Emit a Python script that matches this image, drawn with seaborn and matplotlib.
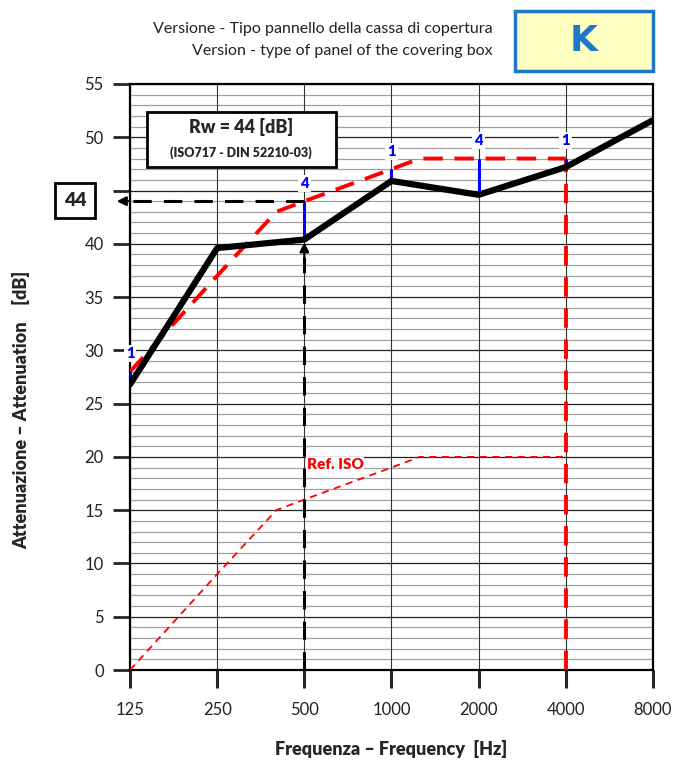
import matplotlib
matplotlib.use("Agg")
import matplotlib.pyplot as plt
import seaborn as sns
import numpy as np
import pandas as pd
from matplotlib.patches import Rectangle

# measured attenuation per octave band
freqs = [125, 250, 500, 1000, 2000, 4000, 8000]
measured = [26.8, 39.6, 40.4, 45.9, 44.6, 47.2, 51.6]

# ISO 717 reference curve (unshifted) and its shift to Rw
ref_freqs = [125, 250, 400, 500, 1000, 1250, 4000]
ref_values = [0, 9, 15, 16, 19, 20, 20]
ref_shift = 28
rw = 44

# deficiency markers
def_freqs = [125, 500, 1000, 2000, 4000]
def_labels = ["1", "4", "1", "4", "1"]

xtick_labels = ["125", "250", "500", "1000", "2000", "4000", "8000"]
ytick_values = [0, 5, 10, 15, 20, 25, 30, 35, 40, 50, 55]

df_meas = pd.DataFrame({"freq": freqs, "att": measured})
df_ref = pd.DataFrame({"freq": ref_freqs, "att": ref_values})
df_shift = pd.DataFrame({"freq": ref_freqs, "att": [v + ref_shift for v in ref_values]})


def shifted_at(f):
    return np.interp(np.log2(f), np.log2(ref_freqs), df_shift["att"])


sns.set_style("white")
plt.rcParams["font.family"] = ["Lato", "DejaVu Sans"]

fig = plt.figure(figsize=(6.88, 7.62), dpi=100)
ax = fig.add_axes([0.189, 0.1207, 0.760, 0.7691])
ax.set_xscale("log", base=2)
ax.set_xlim(125, 8000)
ax.set_ylim(0, 55)

# grid
for y in range(0, 56):
    if y % 5 == 0:
        ax.axhline(y, color="#222222", lw=0.9, zorder=1)
    else:
        ax.axhline(y, color="#a0a0a0", lw=0.9, zorder=1)
for f in freqs:
    ax.axvline(f, color="#333333", lw=0.8, zorder=1)

# reference ISO curve (thin) and shifted curve
sns.lineplot(data=df_ref, x="freq", y="att", ax=ax, color="red", lw=1.3,
             zorder=3).lines[-1].set_dashes([4, 3])
sns.lineplot(data=df_shift, x="freq", y="att", ax=ax, color="red",
             lw=2.8, zorder=4).lines[-1].set_dashes([5, 3])

# vertical red dashed at 4000
ax.plot([4000, 4000], [0, shifted_at(4000)], color="red", lw=2.8,
        dashes=[5, 3], zorder=4)

# deficiency bars
meas_at = dict(zip(freqs, measured))
for f, lab in zip(def_freqs, def_labels):
    top = shifted_at(f)
    ax.plot([f, f], [meas_at[f], top], color="blue", lw=2.2, zorder=5,
            solid_capstyle="butt")
    ax.text(f, top + 1.7, lab, color="blue", fontsize=10.5, fontweight="heavy",
            ha="center", va="center", zorder=7,
            bbox=dict(facecolor="white", edgecolor="none", pad=1.5))

# measured curve
sns.lineplot(data=df_meas, x="freq", y="att", ax=ax, color="black", lw=4.5,
             zorder=6)

# arrows for Rw reading
ax.plot([500, 500], [0, meas_at[500] - 1.6], color="black", lw=2.2,
        dashes=[6, 4], zorder=6)
ax.annotate("", xy=(500, meas_at[500]), xytext=(500, meas_at[500] - 2.2),
            arrowprops=dict(arrowstyle="-|>", color="black", lw=1.5,
                            mutation_scale=14), zorder=7)
ax.plot([500, 116], [rw, rw], color="black", lw=2.2, dashes=[6, 4],
        zorder=6, clip_on=False)
ax.annotate("", xy=(110, rw), xytext=(128, rw),
            arrowprops=dict(arrowstyle="-|>", color="black", lw=1.5,
                            mutation_scale=14), annotation_clip=False, zorder=7)

ax.text(510, 19.3, "Ref. ISO", color="red", fontsize=11, fontweight="heavy",
        ha="left", va="center", zorder=7,
        bbox=dict(facecolor="white", edgecolor="none", pad=0.5))

# axes and ticks
ax.set_xticks(freqs)
ax.set_xticklabels(xtick_labels)
ax.xaxis.set_minor_locator(matplotlib.ticker.NullLocator())
ax.set_yticks(list(range(0, 56, 5)))
ax.set_yticklabels([str(v) if v in ytick_values else "" for v in range(0, 56, 5)])
ax.tick_params(axis="x", bottom=True, direction="out", length=13, width=2.2,
               pad=10, labelsize=12, labelcolor="#222222")
ax.tick_params(axis="y", left=True, direction="out", length=12, width=2.0,
               pad=7, labelsize=12, labelcolor="#222222")
for s in ax.spines.values():
    s.set_color("black")
    s.set_linewidth(1.6)

ax.set_xlabel("Frequenza \u2013 Frequency  [Hz]", fontsize=13,
              fontweight="heavy", labelpad=16)
ax.set_ylabel("Attenuazione \u2013 Attenuation    [dB]", fontsize=13,
              fontweight="heavy")
ax.yaxis.set_label_coords(-0.19, 0.444)

# Rw box
ax.text(0.212, 0.926, "Rw = 44 [dB]", transform=ax.transAxes, fontsize=13,
        fontweight="heavy", ha="center", va="center", zorder=9)
ax.text(0.212, 0.883, "(ISO717 - DIN 52210-03)", transform=ax.transAxes,
        fontsize=9, fontweight="heavy", ha="center", va="center", zorder=9)
ax.add_patch(Rectangle((0.033, 0.858), 0.36, 0.094, transform=ax.transAxes,
                       facecolor="white", edgecolor="black", lw=2, zorder=8))

# 44 box
fig.patches.append(Rectangle((55 / 688, 1 - 218 / 762), 40 / 688, 35 / 762,
                             transform=fig.transFigure, facecolor="white",
                             edgecolor="black", lw=2))
fig.text(75 / 688, 1 - 200 / 762, str(rw), fontsize=14, fontweight="heavy",
         ha="center", va="center")

# header
fig.text(493 / 688, 1 - 29 / 762, "Versione - Tipo pannello della cassa di copertura",
         fontsize=11.5, color="#222222", ha="right", va="center")
fig.text(493 / 688, 1 - 51 / 762, "Version - type of panel of the covering box",
         fontsize=11.5, color="#222222", ha="right", va="center")
fig.patches.append(Rectangle((515 / 688, 1 - 71 / 762), 138 / 688, 60 / 762,
                             transform=fig.transFigure, facecolor="#FFFFC0",
                             edgecolor="#1E78C8", lw=2.5))
fig.text(584 / 688, 1 - 41 / 762, "K", fontsize=26, fontweight="bold",
         color="#1E78C8", ha="center", va="center",
         family=["DejaVu Sans"])

fig.savefig("out.png", dpi=100)
